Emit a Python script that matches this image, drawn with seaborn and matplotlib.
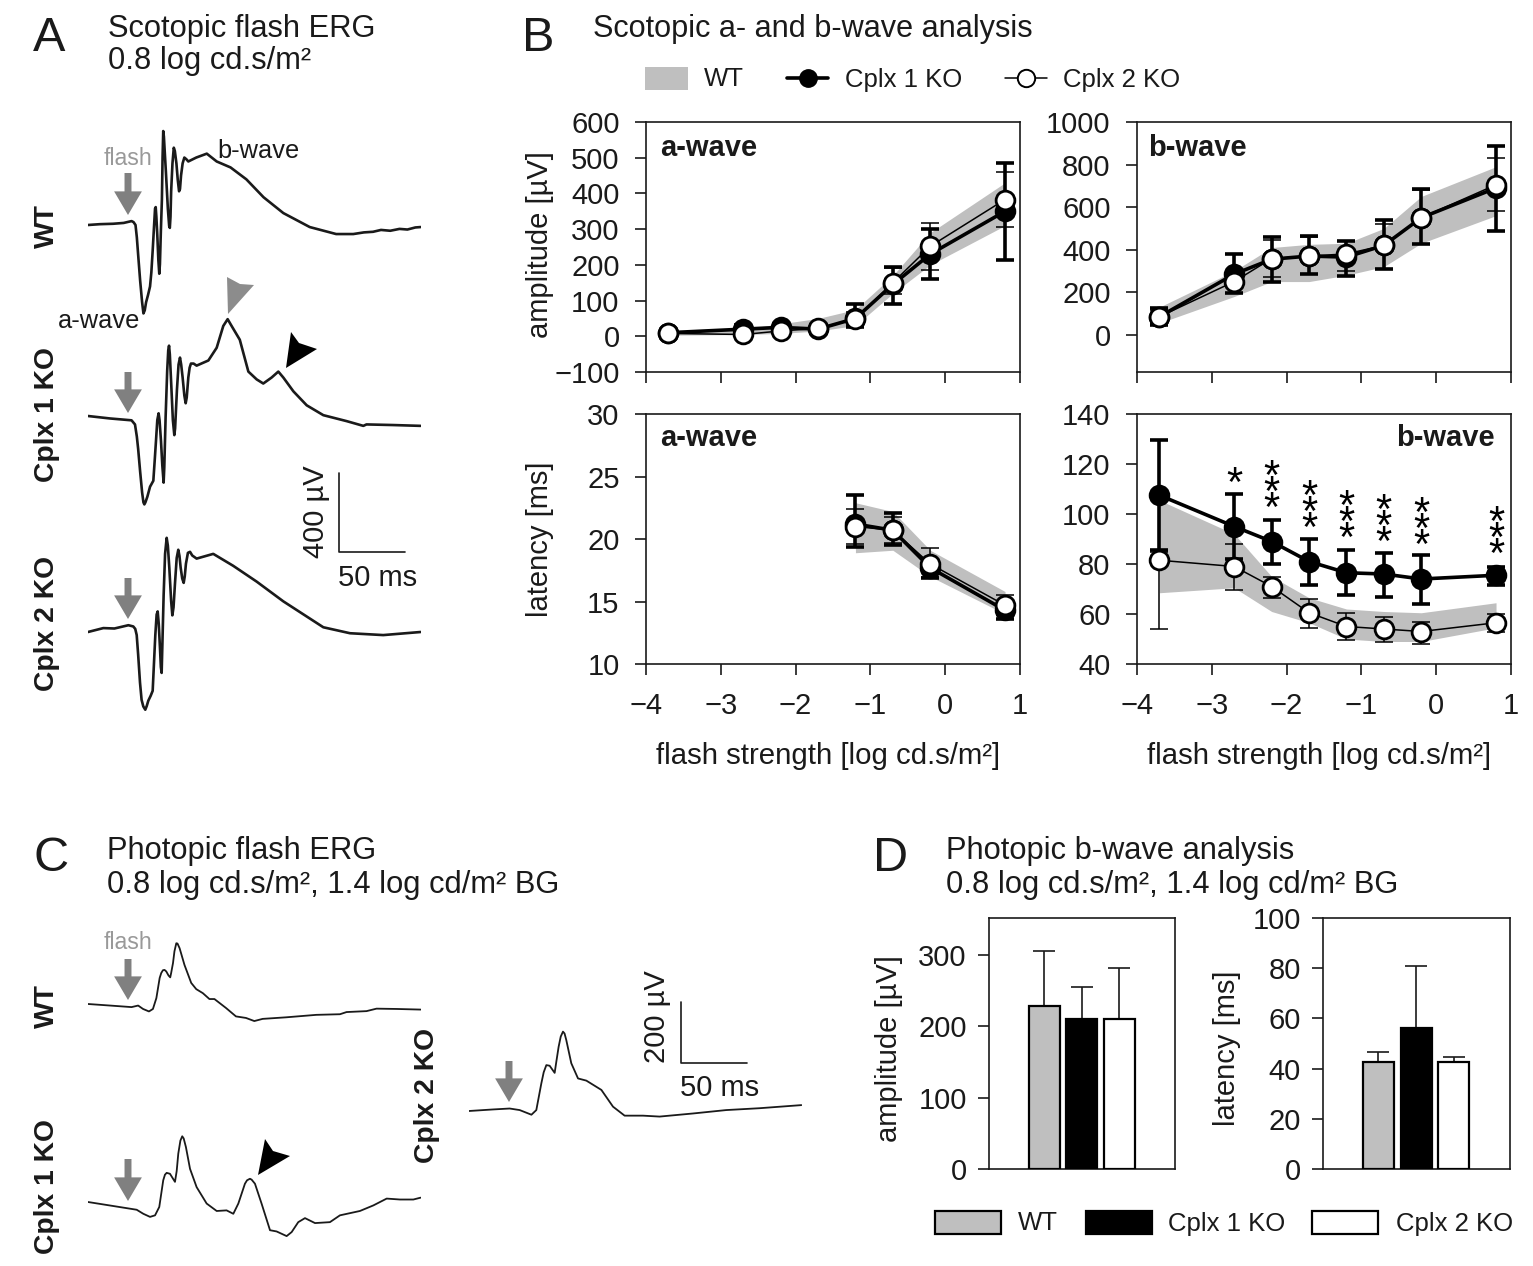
import numpy as np
import pandas as pd
import matplotlib
matplotlib.use('Agg')
import matplotlib.pyplot as plt
from matplotlib.patches import Polygon, Rectangle
import seaborn as sns

# flash strength steps (log cd.s/m2)
flash = [-3.7, -2.7, -2.2, -1.7, -1.2, -0.7, -0.2, 0.8]
flash_short = [-1.2, -0.7, -0.2, 0.8]

# scotopic a-wave amplitude
amp_a_wt_lo = [3, 5, 8, 15, 30, 120, 200, 310]
amp_a_wt_hi = [12, 20, 35, 50, 75, 170, 290, 430]
amp_a_ko1 = [10, 20, 25, 20, 50, 145, 230, 350]
amp_a_ko1_lo = [5, 8, 15, 8, 25, 90, 160, 215]
amp_a_ko1_hi = [15, 32, 35, 32, 90, 195, 300, 485]
amp_a_ko2 = [8, 5, 15, 22, 48, 150, 252, 383]
amp_a_ko2_lo = [4, 0, 7, 12, 28, 118, 185, 305]
amp_a_ko2_hi = [12, 10, 23, 32, 68, 190, 318, 460]

# scotopic b-wave amplitude
amp_b_wt_lo = [55, 180, 250, 250, 280, 320, 430, 560]
amp_b_wt_hi = [130, 300, 410, 425, 430, 500, 650, 790]
amp_b_ko1 = [85, 285, 355, 370, 365, 420, 550, 690]
amp_b_ko1_lo = [45, 195, 250, 285, 275, 310, 425, 490]
amp_b_ko1_hi = [125, 380, 460, 465, 440, 540, 685, 885]
amp_b_ko2 = [85, 250, 358, 370, 380, 420, 550, 705]
amp_b_ko2_lo = [55, 195, 270, 285, 300, 310, 425, 580]
amp_b_ko2_hi = [115, 300, 445, 460, 440, 520, 680, 830]

# scotopic a-wave latency
lat_a_wt_lo = [18.9, 19.1, 17.0, 14.0]
lat_a_wt_hi = [22.9, 22.2, 19.1, 15.8]
lat_a_ko1 = [21.2, 20.7, 17.7, 14.3]
lat_a_ko1_lo = [19.4, 19.5, 16.9, 13.6]
lat_a_ko1_hi = [23.5, 22.1, 18.3, 15.0]
lat_a_ko2 = [21.0, 20.7, 18.0, 14.7]
lat_a_ko2_lo = [19.6, 19.7, 17.0, 13.9]
lat_a_ko2_hi = [22.4, 21.8, 19.3, 15.5]

# scotopic b-wave latency
lat_b_wt_lo = [68.5, 70.5, 61, 56.5, 50, 49, 49, 54.5]
lat_b_wt_hi = [105.5, 92, 75, 66.5, 62, 61, 60.5, 64.5]
lat_b_ko1 = [107.5, 95, 89, 81, 76.5, 76, 74, 75.5]
lat_b_ko1_lo = [85.5, 82, 80, 71.5, 67.5, 67, 64, 71.5]
lat_b_ko1_hi = [129.5, 108, 97.5, 90, 85.5, 84.5, 83.5, 79]
lat_b_ko2 = [81.5, 79, 71, 60.5, 55, 54, 53, 56.5]
lat_b_ko2_lo = [54, 69.5, 66.5, 54.5, 49.5, 49, 48, 53]
lat_b_ko2_hi = [85, 88, 75, 66, 60.5, 59, 57, 60]

# significance stars, centre height of each stack
star_x = [-2.7, -2.2, -1.7, -1.2, -0.7, -0.2, 0.8]
star_y = [114.6, 110.9, 103, 98.9, 97.5, 96.2, 92.5]
star_n = [1, 3, 3, 3, 3, 3, 3]

# photopic bars
genotypes = ['WT', 'Cplx 1 KO', 'Cplx 2 KO']
bar_amp = [229, 210, 210]
bar_amp_top = [306, 255, 282]
bar_lat = [42.5, 56, 42.5]
bar_lat_top = [46.5, 81, 44.5]

# scotopic traces (ms, uV relative to baseline)
sc_wt_t = [0, 9, 19, 27, 33, 34.5, 36, 37, 38, 39.5, 41, 42, 43, 44, 45.5, 47, 48, 49, 50, 50.8, 51.3, 51.8, 52.5,
           53.3, 54, 54.5, 55.2, 56, 56.5, 57, 57.5, 58.2, 59, 60.5, 61.5, 62, 62.5, 63, 64, 65, 65.8, 67, 68, 69,
           69.7, 70.5, 71.7, 73, 74.5, 76, 82, 90, 97.5, 108, 120, 133, 148, 168, 188, 201, 209, 216, 222, 229, 236,
           242, 248, 252]
sc_wt_v = [0, 4, 6, 10, 19, 14, 0, -60, -145, -270, -376, -430, -415, -376, -340, -299, -230, -125, -10, 80, 87, 40,
           -48, -170, -237, -190, -30, 125, 330, 457, 430, 350, 261, 80, -5, -14, 40, 164, 300, 376, 360, 299, 220,
           164, 175, 241, 300, 328, 320, 309, 328, 347, 309, 280, 222, 135, 58, -10, -44, -44, -36, -33, -24, -28,
           -19, -22, -12, -10]
sc_ko1_t = [0, 16.7, 33, 35.6, 37, 38, 39.5, 41, 42, 42.7, 43.5, 45, 47, 49.5, 50.5, 51.5, 52.5, 53.5, 54.2, 55.3,
            56.3, 57.3, 57.8, 58.8, 60, 60.8, 61.4, 62, 63.1, 64.3, 65.4, 66, 67.4, 68.6, 69.7, 70.6, 71.7, 73, 74,
            74.8, 76, 77, 78, 80, 82.3, 91.2, 97.5, 102.5, 105.8, 108.8, 115, 121.5, 127.8, 132.8, 139.1, 144.2, 148,
            155.6, 165.7, 178.3, 196, 208.6, 211, 231.3, 252]
sc_ko1_v = [0, -12, -21, -41, -100, -160, -270, -372, -420, -430, -420, -392, -344, -315, -220, -122, -20, 13, -20,
            -122, -240, -324, -250, -6, 220, 320, 342, 300, 149, -20, -93, -60, 129, 250, 284, 250, 187, 100, 62, 90,
            187, 235, 255, 255, 245, 270, 332, 438, 471, 438, 371, 216, 178, 158, 187, 216, 187, 120, 52, 4, -25, -48,
            -41, -44, -48]
sc_ko2_t = [0, 11.6, 20, 30.6, 34.3, 35.8, 36.9, 38, 39.4, 40.6, 41.9, 43.4, 44.5, 45.7, 47.5, 49, 50, 51, 52, 52.8,
            53.6, 54.5, 55.2, 55.8, 56.4, 57.3, 58.4, 59.6, 60.5, 61.6, 63, 63.9, 64.8, 65.9, 67.2, 68.4, 69.3, 70.2,
            71.4, 72.5, 73.3, 74.2, 75.7, 77.3, 79, 82.3, 94.9, 110, 127.8, 148, 178.3, 198.5, 223.7, 252]
sc_ko2_v = [0, 19, 17, 33, 27, 15, -15, -110, -246, -330, -362, -378, -360, -334, -310, -286, -150, -15, 85, 100, 40,
            -73, -170, -199, -50, 178, 380, 458, 420, 313, 150, 81, 120, 236, 360, 400, 370, 313, 260, 239, 270, 332,
            385, 390, 372, 357, 380, 322, 245, 149, 23, -6, -15, 0]

# photopic traces
ph_wt_t = [0, 16.7, 33, 38, 41.7, 46.2, 49.2, 51.8, 54.3, 55.5, 56.8, 58, 59.3, 61, 62.3, 63, 64.4, 65.5, 66.9, 67.8,
           69.4, 73.1, 78.2, 82, 87, 92, 95.8, 104.6, 112.1, 119.7, 126, 132.3, 150, 173, 190.9, 195.9, 211, 218.6,
           233.8, 252]
ph_wt_v = [0, -5, -10, -5, -16, -24, -16, 19, 84, 100, 109, 110, 105, 92, 86, 100, 132, 170, 196, 195, 180, 126, 68,
           48, 35, 16, 16, -13, -40, -45, -55, -48, -43, -35, -33, -26, -23, -15, -16, -18]
ph_ko1_t = [0, 19.2, 36.9, 41.9, 47, 50.8, 54, 57, 58.3, 59.6, 62.1, 65.9, 67.2, 68.4, 70, 71.4, 72.5, 74.2, 77.3,
            82.3, 89.9, 97.5, 105, 110.1, 113.9, 118.9, 120.5, 122.7, 124, 126.5, 131.5, 137.9, 142.9, 150.5, 154.3,
            159.3, 164.4, 172, 183.3, 190.9, 206, 216.2, 226.3, 236.4, 246.5, 252]
ph_ko1_v = [0, -13, -25, -38, -48, -43, -16, 70, 88, 94, 91, 65, 100, 156, 198, 212, 205, 177, 107, 48, -5, -29, -27,
            -38, -5, 59, 70, 75, 72, 59, -5, -91, -95, -110, -97, -65, -52, -68, -65, -43, -29, -11, 11, 8, 8, 14]
ph_ko2_t = [0, 18.2, 30.8, 38.4, 47.3, 51, 54.8, 56.6, 58.6, 61.1, 64.9, 66.2, 67.9, 69.5, 71.2, 72.4, 73.7, 77.5,
            82.6, 88.9, 100.3, 109.1, 117.9, 131.8, 144.4, 169.7, 194.9, 220.2, 251.8]
ph_ko2_v = [0, 5, 8, 3, -12, 3, 89, 125, 148, 146, 123, 160, 207, 240, 256, 250, 229, 154, 105, 98, 68, 14, -15, -15,
            -18, -8, 3, 9, 19]

W, H = 1533, 1266
GREY = '#bfbfbf'
ARROW = '#808080'
INK = '#1a1a1a'

sns.set_theme(style='ticks')
plt.rcParams['font.family'] = ['Liberation Sans', 'DejaVu Sans']
plt.rcParams['axes.linewidth'] = 1.2
plt.rcParams['text.color'] = INK
plt.rcParams['axes.labelcolor'] = INK
plt.rcParams['xtick.color'] = INK
plt.rcParams['ytick.color'] = INK
plt.rcParams['axes.edgecolor'] = INK

fig = plt.figure(figsize=(W / 100, H / 100), dpi=100, facecolor='white')


def px_axes(left, top, right, bottom):
    return fig.add_axes([left / W, 1 - bottom / H, (right - left) / W, (bottom - top) / H])


# full figure layer in pixels, only for labels and annotations
ov = px_axes(0, 0, W, H)
ov.set_xlim(0, W)
ov.set_ylim(H, 0)
ov.axis('off')
ov.set_zorder(10)


def label(x, y, s, size=21, **kw):
    kw.setdefault('va', 'center')
    ov.text(x, y + 1.5, s, fontsize=size, **kw)


def draw_trace(x0, base, t, v, uv_px, lw=1.9):
    # baseline at y=base, 1.32 px per ms
    box = 125
    ax = px_axes(x0, base - box, x0 + 333, base + box)
    ax.patch.set_alpha(0)
    sns.lineplot(x=t, y=v, ax=ax, color=INK, lw=lw, estimator=None, sort=False, legend=False)
    ax.set_xlim(0, 252.3)
    ax.set_ylim(-box / uv_px, box / uv_px)
    ax.axis('off')


def flash_arrow(x, tail, tip):
    ov.annotate('', xy=(x, tip), xytext=(x, tail),
                arrowprops=dict(facecolor=ARROW, edgecolor='none', width=5, headwidth=20, headlength=17, shrink=0))


def notch_head(points, color):
    ov.add_patch(Polygon(points, closed=True, facecolor=color, edgecolor='none'))


def curve_panel(box, xs, wt_lo, wt_hi, ko1, ko1_lo, ko1_hi, ko2, ko2_lo, ko2_hi, ylim, yticks, show_x):
    ax = px_axes(*box)
    ax.fill_between(xs, wt_lo, wt_hi, color=GREY, lw=0, zorder=1)
    x = np.array(xs)
    for y, lo, hi, lw, mfc, z in [(ko1, ko1_lo, ko1_hi, 2.6, 'black', 3), (ko2, ko2_lo, ko2_hi, 1.1, 'white', 5)]:
        y = np.array(y)
        ax.errorbar(x, y, yerr=[y - np.array(lo), np.array(hi) - y], fmt='none', ecolor='black',
                    elinewidth=lw, capsize=6.5, capthick=lw, zorder=z)
        df = pd.DataFrame({'flash': x, 'val': y})
        sns.lineplot(data=df, x='flash', y='val', ax=ax, color='black', lw=lw, marker='o', markersize=13.5,
                     markerfacecolor=mfc, markeredgecolor='black', markeredgewidth=2, errorbar=None,
                     legend=False, zorder=z + 1)
    ax.set_xlim(-4, 1)
    ax.set_ylim(*ylim)
    ax.set_xticks(range(-4, 2))
    ax.set_yticks(yticks)
    ax.tick_params(axis='y', length=8, width=1.2, labelsize=21, pad=11)
    ax.tick_params(axis='x', length=8, width=1.2, labelsize=21, pad=12)
    ax.set_xlabel('')
    ax.set_ylabel('')
    if show_x:
        ax.set_xlabel('flash strength [log cd.s/m²]', fontsize=21.2, labelpad=16)
        ax.xaxis.label.set_x(0.488)
    else:
        ax.set_xticklabels([])
    return ax


# panel A
label(33, 37, 'A', size=35, ha='left')
label(108, 27, 'Scotopic flash ERG', size=22.2)
label(108, 60, '0.8 log cd.s/m²', size=22.2)
draw_trace(88, 225, sc_wt_t, sc_wt_v, 0.2056)
draw_trace(88, 416, sc_ko1_t, sc_ko1_v, 0.2056)
draw_trace(88, 632, sc_ko2_t, sc_ko2_v, 0.2056)
flash_arrow(128, 173, 215)
flash_arrow(128, 372, 413)
flash_arrow(128, 578, 619)
label(128, 157, 'flash', size=16.7, color='#999999', ha='center')
label(258, 149, 'b-wave', size=18.3, ha='center')
label(99, 319, 'a-wave', size=18.3, ha='center')
for y, s in [(225, 'WT'), (413, 'Cplx 1 KO'), (622, 'Cplx 2 KO')]:
    label(47, y, s, size=20.3, fontweight='bold', rotation=90, ha='center')
notch_head([(228, 314), (227, 277), (240, 284), (254, 285)], '#8c8c8c')
notch_head([(286, 368), (291, 332), (299, 343), (317, 349)], 'black')
ov.plot([339, 339, 405], [473, 552, 552], color=INK, lw=1.2)
label(316, 510, '400 µV', rotation=90, ha='center')
label(338, 577, '50 ms')

# panel B
label(522, 37, 'B', size=35, ha='left')
label(593, 27, 'Scotopic a- and b-wave analysis', size=22.1)
ov.add_patch(Rectangle((645, 67), 43, 23, facecolor=GREY, edgecolor='none'))
label(704, 78, 'WT', size=18.5)
ov.plot([787, 828], [78, 78], color='black', lw=2.6)
ov.plot([808], [78], 'o', ms=12.5, mfc='black', mec='black')
label(845, 78, 'Cplx 1 KO', size=18.5)
ov.plot([1005, 1047], [78, 78], color='black', lw=1.1)
ov.plot([1026], [78], 'o', ms=12.5, mfc='white', mec='black', mew=1.4)
label(1063, 78, 'Cplx 2 KO', size=18.5)

ax_aa = curve_panel((646, 122, 1020, 372), flash, amp_a_wt_lo, amp_a_wt_hi, amp_a_ko1, amp_a_ko1_lo, amp_a_ko1_hi,
                    amp_a_ko2, amp_a_ko2_lo, amp_a_ko2_hi, (-100, 600), range(-100, 601, 100), False)
ax_ab = curve_panel((1137, 122, 1511, 372), flash, amp_b_wt_lo, amp_b_wt_hi, amp_b_ko1, amp_b_ko1_lo, amp_b_ko1_hi,
                    amp_b_ko2, amp_b_ko2_lo, amp_b_ko2_hi, (-175, 1000), range(0, 1001, 200), False)
ax_la = curve_panel((646, 414, 1020, 664), flash_short, lat_a_wt_lo, lat_a_wt_hi, lat_a_ko1, lat_a_ko1_lo,
                    lat_a_ko1_hi, lat_a_ko2, lat_a_ko2_lo, lat_a_ko2_hi, (10, 30), range(10, 31, 5), True)
ax_lb = curve_panel((1137, 414, 1511, 664), flash, lat_b_wt_lo, lat_b_wt_hi, lat_b_ko1, lat_b_ko1_lo, lat_b_ko1_hi,
                    lat_b_ko2, lat_b_ko2_lo, lat_b_ko2_hi, (40, 140), range(40, 141, 20), True)
ax_aa.set_ylabel('amplitude [µV]', fontsize=21)
ax_aa.yaxis.set_label_coords(-0.247, 0.51)
ax_la.set_ylabel('latency [ms]', fontsize=21)
ax_la.yaxis.set_label_coords(-0.247, 0.5)

label(660, 146, 'a-wave', fontweight='bold')
label(1148, 146, 'b-wave', fontweight='bold')
label(660, 437, 'a-wave', fontweight='bold')
label(1495, 437, 'b-wave', fontweight='bold', ha='right')
for x, y, n in zip(star_x, star_y, star_n):
    # one text per stack; asterisk sits high in the em box, so anchor on the last baseline
    ax_lb.text(x, y - (n - 1) / 2 * 6.4 - 7.4, '\n'.join('*' * n), fontsize=30, linespacing=0.23,
               ha='center', va='baseline', color='black', zorder=8)

# panel C
label(33, 857, 'C', size=35, ha='left')
label(107, 849, 'Photopic flash ERG', size=22.2)
label(107, 884, '0.8 log cd.s/m², 1.4 log cd/m² BG', size=22.2)
draw_trace(88, 1004, ph_wt_t, ph_wt_v, 0.31, lw=1.3)
draw_trace(88, 1202, ph_ko1_t, ph_ko1_v, 0.31, lw=1.3)
draw_trace(469, 1111, ph_ko2_t, ph_ko2_v, 0.31, lw=1.3)
flash_arrow(128, 959, 1000)
flash_arrow(128, 1159, 1201)
flash_arrow(509, 1061, 1102)
label(128, 941, 'flash', size=16.7, color='#999999', ha='center')
for x, y, s in [(47, 1005, 'WT'), (47, 1185, 'Cplx 1 KO'), (427, 1094, 'Cplx 2 KO')]:
    label(x, y, s, size=20.3, fontweight='bold', rotation=90, ha='center')
notch_head([(258, 1175), (265, 1139), (273, 1151), (290, 1156)], 'black')
ov.plot([681, 681, 747], [1002, 1063, 1063], color=INK, lw=1.2)
label(657, 1015, '200 µV', rotation=90, ha='center')
label(680, 1086, '50 ms')

# panel D
label(873, 857, 'D', size=35, ha='left')
label(946, 849, 'Photopic b-wave analysis', size=22.2)
label(946, 883, '0.8 log cd.s/m², 1.4 log cd/m² BG', size=22.2)
palette = dict(zip(genotypes, [GREY, 'black', 'white']))


def bar_panel(box, vals, tops, ylim, yticks, ylabel):
    ax = px_axes(*box)
    df = pd.DataFrame({'genotype': genotypes, 'val': vals})
    sns.barplot(data=df, x='genotype', y='val', hue='genotype', palette=palette, ax=ax, width=0.82,
                edgecolor='black', linewidth=1.6, legend=False, zorder=3)
    v = np.array(vals)
    ax.errorbar(range(3), v, yerr=[np.zeros(3), np.array(tops) - v], fmt='none', ecolor=INK,
                elinewidth=1.2, capsize=8, capthick=1.2, zorder=2)
    ax.set_xlim(-1.47, 3.49)
    ax.set_ylim(*ylim)
    ax.set_xticks([])
    ax.set_yticks(yticks)
    ax.tick_params(axis='y', length=8, width=1.2, labelsize=21, pad=8)
    ax.set_xlabel('')
    ax.set_ylabel(ylabel, fontsize=21)
    return ax


ax_da = bar_panel((989, 918, 1175, 1169), bar_amp, bar_amp_top, (0, 352), [0, 100, 200, 300], 'amplitude [µV]')
ax_da.yaxis.set_label_coords(-0.46, 0.48)
ax_dl = bar_panel((1323, 918, 1510, 1169), bar_lat, bar_lat_top, (0, 100), range(0, 101, 20), 'latency [ms]')
ax_dl.yaxis.set_label_coords(-0.44, 0.48)

for x, c, tx, s in [(935, GREY, 1018, 'WT'), (1086, 'black', 1168, 'Cplx 1 KO'), (1312, 'white', 1396, 'Cplx 2 KO')]:
    ov.add_patch(Rectangle((x, 1211), 66, 23, facecolor=c, edgecolor='black', lw=1.6))
    label(tx, 1222, s, size=18.5)

fig.savefig('out.png', dpi=100)
